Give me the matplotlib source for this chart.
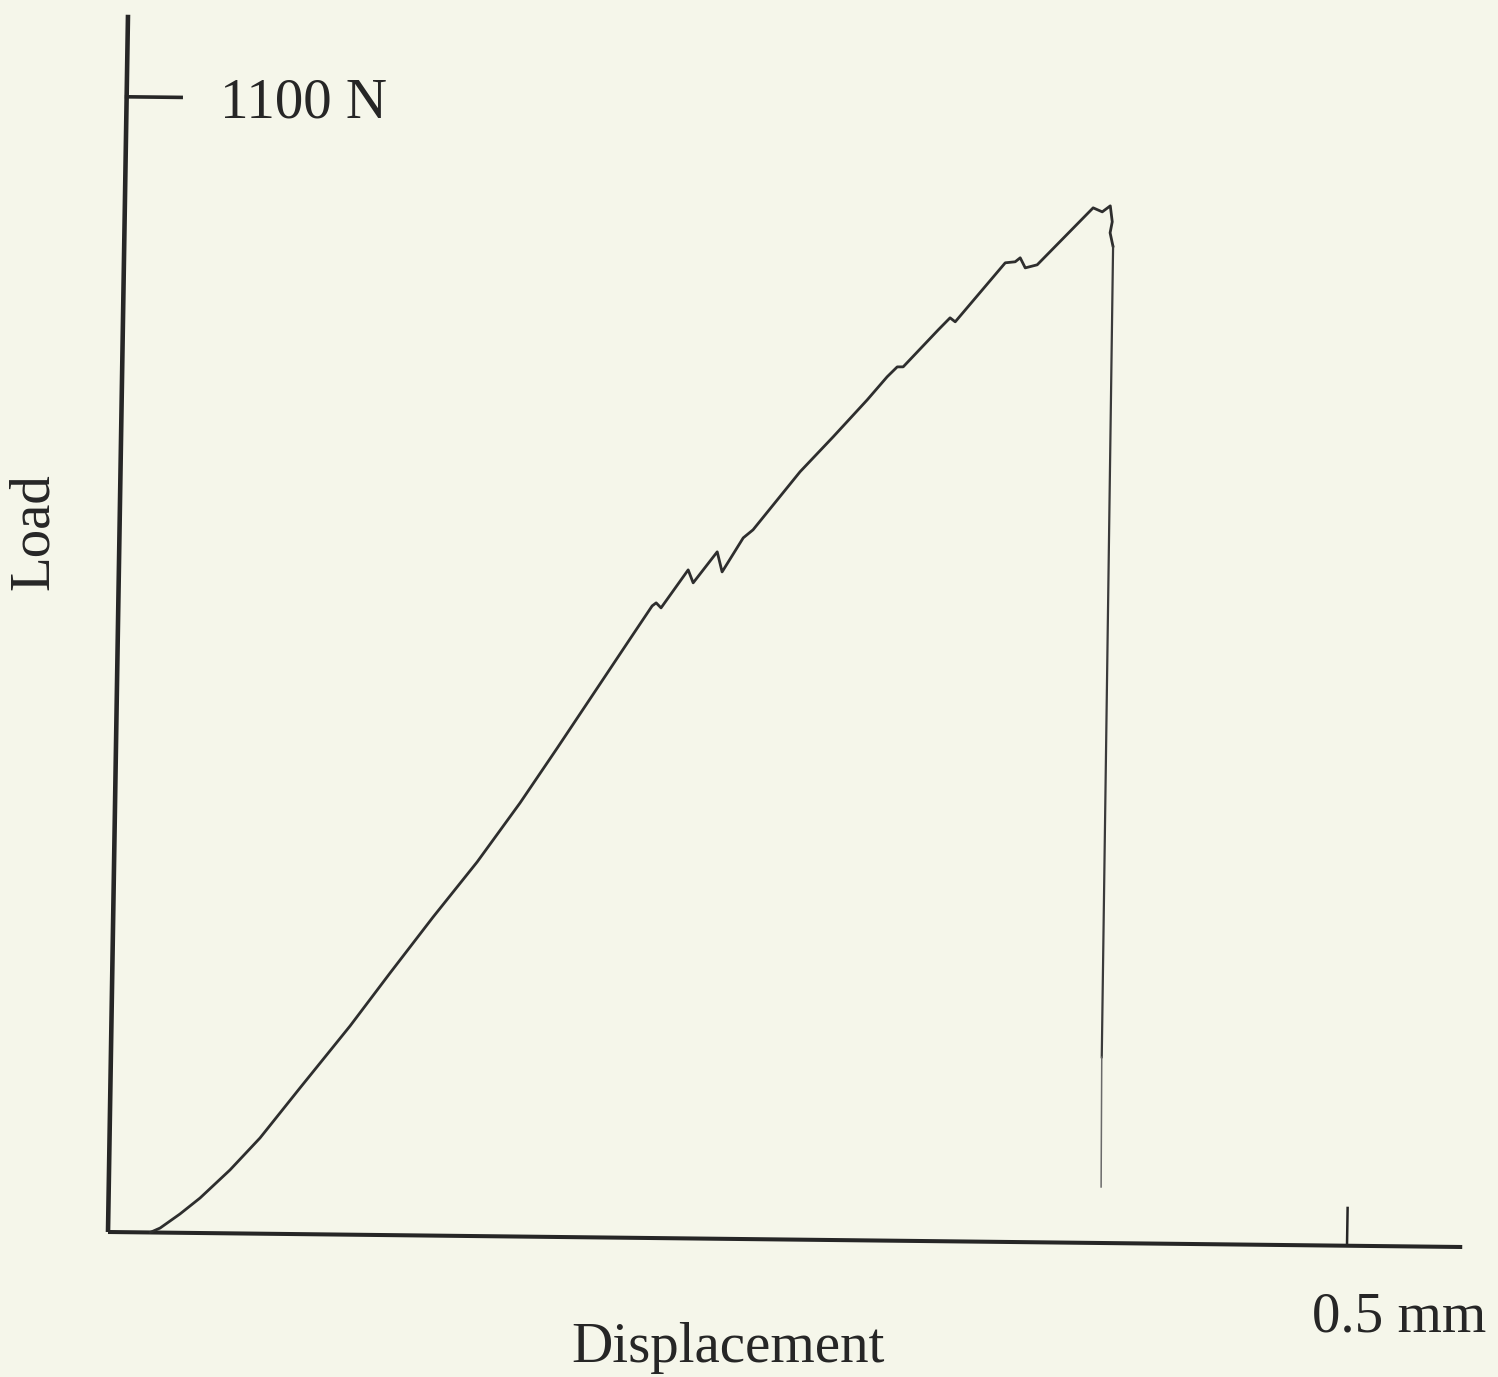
import numpy as np
import matplotlib
matplotlib.use("Agg")
import matplotlib.pyplot as plt
from matplotlib.transforms import Affine2D

# load-displacement record (mm, N)
displacement = [0.0170, 0.0210, 0.0289, 0.0369, 0.0488, 0.0607, 0.0765, 0.0963,
                0.1121, 0.1291, 0.1465, 0.1634, 0.1780, 0.1949, 0.2067, 0.2154,
                0.2170, 0.2190, 0.2297, 0.2318, 0.2413, 0.2434, 0.2517, 0.2556,
                0.2742, 0.2873, 0.3008, 0.3087, 0.3127, 0.3151, 0.3290, 0.3337,
                0.3358, 0.3556, 0.3596, 0.3616, 0.3637, 0.3685, 0.3907, 0.3944,
                0.3976, 0.3985, 0.3977, 0.3990]
load = [0.0, 4.4, 18.2, 33.9, 61.4, 92.7, 141.6, 202.2,
        254.0, 308.7, 362.5, 420.1, 473.5, 536.3, 580.2, 612.4,
        615.4, 610.6, 647.7, 635.2, 665.5, 646.1, 679.3, 687.2,
        744.0, 778.1, 814.3, 836.9, 846.6, 846.7, 882.9, 894.7,
        890.9, 948.6, 949.7, 953.6, 943.9, 947.0, 1002.8, 999.0,
        1004.9, 989.5, 978.8, 965.3]

# pen drop after failure
drop_disp = [0.3990, 0.3998, 0.4004]
drop_load = [965.3, 180.0, 54.3]

# axis extents and single calibration marks
x_axis_end = 0.5465
y_axis_end = 1179.5
load_mark = 1100
disp_mark = 0.5

bg = "#f5f6ea"
ink = "#262626"

fig = plt.figure(figsize=(14.98, 13.77), dpi=100)
fig.patch.set_facecolor(bg)
ax = fig.add_axes([0, 0, 1, 1])
ax.set_axis_off()

# the plotted sheet is slightly skewed
skew = Affine2D(np.array([[1.0, 6.84e-6, 0.0],
                          [-26.6, 1.0, 0.0],
                          [0.0, 0.0, 1.0]]))
tr = skew + ax.transData

# axes lines
ax.plot([0, 0], [0, y_axis_end], color=ink, lw=3.3, transform=tr, solid_capstyle="butt")
ax.plot([0, x_axis_end], [0, 0], color=ink, lw=2.9, transform=tr, solid_capstyle="butt")
ax.plot([0, 0.022], [load_mark, load_mark], color=ink, lw=2.6, transform=tr)
ax.plot([disp_mark, disp_mark], [0, 36.6], color=ink, lw=1.8, transform=tr)

# curve
ax.plot(displacement, load, color="#2e2e2e", lw=2.0, transform=tr,
        solid_joinstyle="round", solid_capstyle="round")
ax.plot(drop_disp[:2], drop_load[:2], color="#3a3a3a", lw=1.6, transform=tr)
ax.plot(drop_disp[1:], drop_load[1:], color="#6a6a6a", lw=1.1, transform=tr)

ax.set_xlim(-108 / 2478, 1390 / 2478)
ax.set_ylim(-145 / 1.032, 1232 / 1.032)

W, H = 1498, 1377
font = dict(family=["Liberation Serif", "DejaVu Serif"], size=41, color=ink)
fig.text(220 / W, 1 - 118 / H, "1100 N", ha="left", va="baseline", **font)
fig.text(1312 / W, 1 - 1332 / H, "0.5 mm", ha="left", va="baseline", **font)
fig.text(728 / W, 1 - 1362 / H, "Displacement", ha="center", va="baseline", **font)
fig.text(34 / W, 1 - 532 / H, "Load", rotation=90, ha="center", va="center", **font)

fig.savefig("out.png", dpi=100, facecolor=bg)
